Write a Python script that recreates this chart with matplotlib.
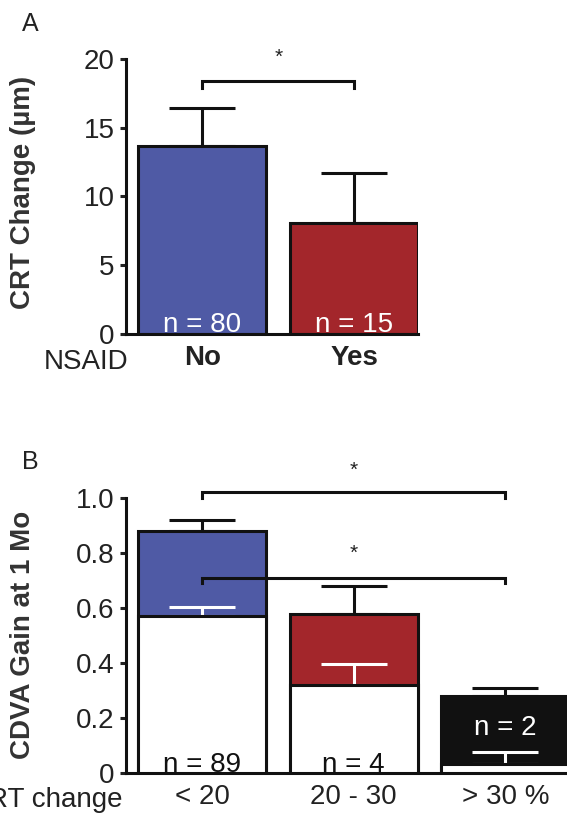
import numpy as np
import matplotlib
matplotlib.use('Agg')
import matplotlib.pyplot as plt

plt.rcParams['font.family'] = ['Liberation Sans', 'DejaVu Sans']

# Panel A data
nsaid_groups = ['No', 'Yes']
crt_change = [13.7, 8.1]
crt_err = [2.7, 3.6]
crt_n = [80, 15]
crt_colors = ['#4f5aa5', '#a3262b']

# Panel B data
crt_groups = ['< 20', '20 - 30', '> 30 %']
cdva_total = [0.88, 0.58, 0.28]
cdva_total_err = [0.04, 0.10, 0.03]
cdva_base = [0.57, 0.32, 0.033]
cdva_base_err = [0.035, 0.075, 0.042]
cdva_n = [89, 4, 2]
cdva_colors = ['#4f5aa5', '#a3262b', '#111111']

W, H = 567, 813
fig = plt.figure(figsize=(W / 100, H / 100), dpi=100)

lw = 2.2
capsize = 24
width = 0.845
txt = '#222222'
fs = 20

def style_axes(ax):
    for s in ['top', 'right']:
        ax.spines[s].set_visible(False)
    for s in ['left', 'bottom']:
        ax.spines[s].set_linewidth(lw)
        ax.spines[s].set_color('#111111')
    ax.tick_params(axis='y', length=4, width=lw, pad=4, labelsize=fs, colors=txt)
    ax.tick_params(axis='x', length=0, pad=8, colors=txt)

# ---- Panel A ----
axA = fig.add_axes([125.5 / W, (H - 334) / H, (418 - 125.5) / W, 275 / H])
xA = np.arange(len(nsaid_groups))
axA.errorbar(xA, crt_change, yerr=[np.zeros(2), crt_err], fmt='none',
             ecolor='#111111', elinewidth=lw, capsize=capsize, capthick=lw, zorder=1)
axA.bar(xA, crt_change, width=width, color=crt_colors, edgecolor='#111111',
        linewidth=lw, zorder=2)
for x, n in zip(xA, crt_n):
    axA.text(x, 0.15, f'n = {n}', color='white', fontsize=fs,
             ha='center', va='baseline', zorder=3)
axA.set_xlim(-0.505, 1.42)
axA.set_ylim(0, 20)
axA.set_yticks([0, 5, 10, 15, 20])
axA.set_yticklabels(['0', '5', '10', '15', '20'])
axA.set_xticks(xA)
axA.set_xticklabels(nsaid_groups, fontsize=fs, fontweight='bold')
style_axes(axA)
axA.plot([0, 0, 1, 1], [17.9, 18.4, 18.4, 17.9], color='#111111', lw=lw,
         clip_on=False, solid_joinstyle='miter')
axA.text(0.5, 20.1, '*', fontsize=15, ha='center', va='center', color=txt, clip_on=False)

fig.text(23 / W, 1 - 192 / H, 'CRT Change (µm)', rotation=90, ha='center', va='center',
         fontsize=fs, fontweight='bold', color='#333333')
fig.text(128 / W, 1 - 362 / H, 'NSAID', ha='right', va='center', fontsize=fs, color=txt)
fig.text(22 / W, 1 - 24 / H, 'A', ha='left', va='center', fontsize=18, color=txt)

# ---- Panel B ----
axB = fig.add_axes([125.5 / W, (H - 773) / H, (569 - 125.5) / W, 275 / H])
xB = np.arange(len(crt_groups))
axB.errorbar(xB, cdva_total, yerr=[np.zeros(3), cdva_total_err], fmt='none',
             ecolor='#111111', elinewidth=lw, capsize=capsize, capthick=lw, zorder=1)
axB.bar(xB, cdva_total, width=width, color=cdva_colors, edgecolor='#111111',
        linewidth=lw, zorder=2)
axB.errorbar(xB, cdva_base, yerr=[np.zeros(3), cdva_base_err], fmt='none',
             ecolor='white', elinewidth=lw, capsize=capsize, capthick=lw, zorder=2.5)
axB.bar(xB, cdva_base, width=width, color='white', edgecolor='#111111',
        linewidth=lw, zorder=3)
n_pos = [0.005, 0.005, 0.138]
n_col = ['#111111', '#111111', 'white']
for x, n, y, c in zip(xB, cdva_n, n_pos, n_col):
    axB.text(x, y, f'n = {n}', color=c, fontsize=fs, ha='center', va='baseline', zorder=5)
axB.set_xlim(-0.505, 2.42)
axB.set_ylim(0, 1.0)
axB.set_yticks([0, 0.2, 0.4, 0.6, 0.8, 1.0])
axB.set_yticklabels(['0', '0.2', '0.4', '0.6', '0.8', '1.0'])
axB.set_xticks(xB)
axB.set_xticklabels(crt_groups, fontsize=fs)
style_axes(axB)
axB.plot([0, 0, 2, 2], [1.0, 1.02, 1.02, 1.0], color='#111111', lw=lw,
         clip_on=False, solid_joinstyle='miter')
axB.plot([0, 0, 2, 2], [0.69, 0.71, 0.71, 0.69], color='#111111', lw=lw,
         clip_on=False, solid_joinstyle='miter', zorder=6)
axB.text(1.0, 1.10, '*', fontsize=15, ha='center', va='center', color=txt, clip_on=False)
axB.text(1.0, 0.80, '*', fontsize=15, ha='center', va='center', color=txt)

fig.text(23 / W, 1 - 635 / H, 'CDVA Gain at 1 Mo', rotation=90, ha='center', va='center',
         fontsize=fs, fontweight='bold', color='#333333')
fig.text(123 / W, 1 - 800 / H, 'CRT change', ha='right', va='center', fontsize=fs, color=txt)
fig.text(22 / W, 1 - 462 / H, 'B', ha='left', va='center', fontsize=18, color=txt)

fig.savefig('out.png', dpi=100)
